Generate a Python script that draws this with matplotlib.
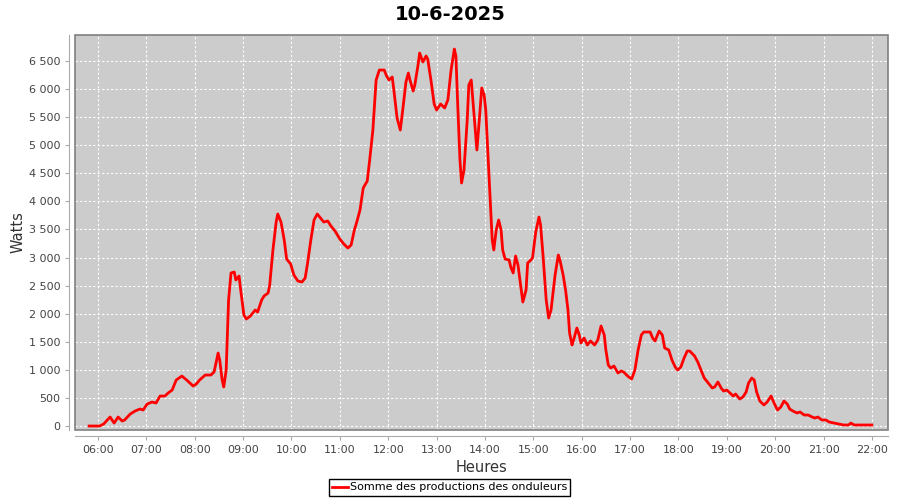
import matplotlib
matplotlib.use("Agg")
import matplotlib.pyplot as plt
from matplotlib.ticker import FuncFormatter, MultipleLocator
from matplotlib.patches import Rectangle

heures = ["05:49", "06:02", "06:07", "06:15", "06:20", "06:25", "06:30", "06:33", "06:40", "06:46",
          "06:52", "06:56", "07:01", "07:07", "07:12", "07:17", "07:23", "07:27", "07:32", "07:37",
          "07:44", "07:50", "07:58", "08:02", "08:06", "08:13", "08:20", "08:24", "08:29", "08:31",
          "08:34", "08:36", "08:39", "08:42", "08:45", "08:49", "08:51", "08:55", "08:57", "09:01",
          "09:04", "09:09", "09:15", "09:18", "09:23", "09:26", "09:31", "09:33", "09:37", "09:41",
          "09:43", "09:47", "09:51", "09:54", "09:59", "10:03", "10:08", "10:13", "10:17", "10:20",
          "10:24", "10:28", "10:32", "10:35", "10:40", "10:45", "10:49", "10:54", "11:00", "11:05",
          "11:10", "11:14", "11:18", "11:21", "11:25", "11:29", "11:34", "11:37", "11:41", "11:45",
          "11:49", "11:55", "11:58", "12:01", "12:05", "12:07", "12:11", "12:15", "12:18", "12:22",
          "12:25", "12:27", "12:31", "12:33", "12:37", "12:39", "12:43", "12:47", "12:49", "12:53",
          "12:57", "13:00", "13:05", "13:10", "13:14", "13:18", "13:22", "13:24", "13:26", "13:29",
          "13:31", "13:34", "13:38", "13:40", "13:43", "13:45", "13:49", "13:50", "13:53", "13:56",
          "13:59", "14:01", "14:05", "14:09", "14:11", "14:14", "14:17", "14:20", "14:22", "14:25",
          "14:30", "14:32", "14:35", "14:38", "14:41", "14:45", "14:47", "14:51", "14:53", "14:57",
          "14:59", "15:03", "15:07", "15:09", "15:12", "15:16", "15:19", "15:22", "15:27", "15:31",
          "15:33", "15:37", "15:40", "15:43", "15:45", "15:48", "15:50", "15:54", "15:57", "15:59",
          "16:03", "16:07", "16:11", "16:16", "16:20", "16:24", "16:28", "16:30", "16:33", "16:36",
          "16:40", "16:45", "16:49", "16:52", "16:57", "17:02", "17:06", "17:10", "17:14", "17:17",
          "17:25", "17:28", "17:31", "17:36", "17:40", "17:43", "17:48", "17:52", "17:56", "17:59",
          "18:03", "18:07", "18:11", "18:14", "18:20", "18:24", "18:28", "18:32", "18:37", "18:42",
          "18:45", "18:49", "18:53", "18:56", "19:00", "19:04", "19:08", "19:11", "19:16", "19:20",
          "19:24", "19:27", "19:31", "19:34", "19:37", "19:41", "19:46", "19:50", "19:55", "19:57",
          "20:01", "20:03", "20:07", "20:11", "20:15", "20:18", "20:22", "20:27", "20:31", "20:36",
          "20:41", "20:46", "20:49", "20:53", "20:58", "21:03", "21:07", "21:13", "21:19", "21:25",
          "21:31", "21:34", "21:38", "21:44", "22:00"]

watts = [0, 0, 36, 160, 53, 160, 89, 107, 214, 267,
         303, 285, 392, 427, 410, 534, 534, 588, 641, 819,
         890, 819, 712, 748, 819, 908, 908, 962, 1300, 1175,
         819, 695, 997, 2244, 2725, 2743, 2600, 2672, 2422, 1977,
         1906, 1959, 2066, 2030, 2244, 2315, 2369, 2511, 3135, 3633,
         3776, 3633, 3313, 2974, 2885, 2689, 2582, 2565, 2636, 2903,
         3313, 3669, 3776, 3722, 3633, 3651, 3562, 3473, 3330, 3241,
         3170, 3224, 3491, 3633, 3847, 4239, 4363, 4737, 5272, 6162,
         6340, 6340, 6233, 6162, 6216, 5984, 5485, 5272, 5628, 6126,
         6287, 6162, 5966, 6073, 6429, 6643, 6483, 6590, 6536, 6162,
         5735, 5628, 5735, 5664, 5806, 6340, 6714, 6590, 5806, 4737,
         4328, 4559, 5450, 6073, 6162, 5806, 5094, 4916, 5450, 6020,
         5895, 5628, 4470, 3313, 3135, 3491, 3669, 3491, 3135, 2974,
         2957, 2832, 2725, 3028, 2867, 2422, 2208, 2422, 2903, 2957,
         2992, 3455, 3722, 3580, 3046, 2244, 1923, 2066, 2689, 3046,
         2957, 2689, 2422, 2066, 1656, 1443, 1532, 1745, 1621, 1478,
         1567, 1443, 1514, 1443, 1532, 1781, 1621, 1354, 1086, 1033,
         1069, 944, 980, 962, 890, 837, 997, 1354, 1621, 1674,
         1674, 1567, 1514, 1692, 1621, 1389, 1354, 1175, 1051, 997,
         1051, 1211, 1336, 1336, 1247, 1140, 997, 855, 766, 677,
         695, 784, 677, 623, 641, 588, 534, 570, 481, 516,
         606, 766, 855, 819, 606, 445, 374, 427, 534, 463,
         338, 285, 338, 445, 392, 303, 267, 232, 249, 196,
         196, 160, 142, 160, 107, 107, 71, 53, 36, 18,
         18, 53, 18, 18, 18]

x = [int(h[:2]) + int(h[3:]) / 60 for h in heures]

fig = plt.figure(figsize=(9, 5), dpi=100)
fig.patch.set_facecolor("white")
ax = fig.add_axes([75 / 900, 1 - 430 / 500, 813 / 900, 395 / 500])
ax.set_facecolor("#cccccc")

ax.plot(x, watts, color="#ff0000", lw=2, solid_joinstyle="round",
        label="Somme des productions des onduleurs")

ax.set_xlim(5.5245, 22.333)
ax.set_ylim(-71, 6964)
ax.xaxis.set_major_locator(MultipleLocator(1))
ax.yaxis.set_major_locator(MultipleLocator(500))
ax.xaxis.set_major_formatter(FuncFormatter(lambda v, p: "%02d:00" % round(v)))
ax.yaxis.set_major_formatter(FuncFormatter(lambda v, p: "{:,}".format(int(v)).replace(",", " ")))

ax.grid(True, color="white", ls=(0, (2, 2)), lw=0.8)
ax.set_axisbelow(True)

for s in ["top", "right"]:
    ax.spines[s].set_visible(False)
for s in ["left", "bottom"]:
    ax.spines[s].set_position(("outward", 4))
    ax.spines[s].set_color("#aaaaaa")
ax.add_patch(Rectangle((0, 0), 1, 1, transform=ax.transAxes, fill=False,
                       edgecolor="#808080", lw=1.2, clip_on=False, zorder=5))

ax.tick_params(axis="both", colors="#aaaaaa", labelcolor="#444444", labelsize=8, length=3)

ax.set_xlabel("Heures", fontsize=10.5, color="#333333", labelpad=4)
ax.set_ylabel("Watts", fontsize=10.5, color="#333333", labelpad=2)
fig.suptitle("10-6-2025", fontsize=14, fontweight="bold", y=0.99)

leg = fig.legend(loc="center", bbox_to_anchor=(449.5 / 900, 1 - 487.5 / 500), fontsize=8,
                 frameon=True, fancybox=False, framealpha=1, borderpad=0.3,
                 handlelength=1.4, handletextpad=0.2, borderaxespad=0)
leg.get_frame().set_edgecolor("black")
leg.get_frame().set_linewidth(1)

fig.savefig("out.png", dpi=100)
